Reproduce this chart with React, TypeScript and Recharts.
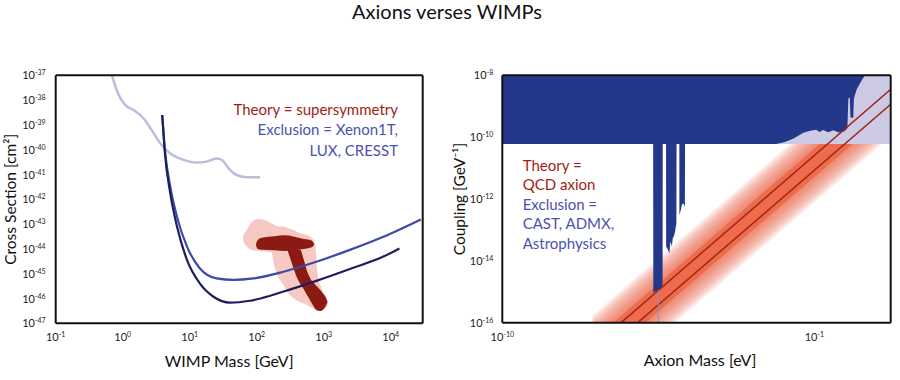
import React from "react";
import { ComposedChart, Area, Line, XAxis, YAxis, Label } from "recharts";

const FONT = "Lato, 'Open Sans', sans-serif";

// ---------- WIMP panel (all values log10: mass in GeV, cross section in cm^2)
const wimpMassTicks = [-1, 0, 1, 2, 3, 4];
const wimpMassMinorTicks = [0, 1, 2, 3, 4];
const wimpSigmaTicks = [-47, -46, -45, -44, -43, -42, -41, -40, -39, -38, -37];
const wimpSigmaMinorTicks = [-46, -45, -44, -43, -42, -41, -40, -39, -38];

const cresstLogMass = [-0.16, -0.07, 0.04, 0.16, 0.31, 0.43, 0.56, 0.71, 0.91, 1.1, 1.25, 1.4, 1.48, 1.58, 1.7, 1.85, 2.05];
const cresstLogSigma = [-37.0, -37.73, -38.2, -38.4, -38.73, -39.2, -39.74, -40.15, -40.41, -40.52, -40.48, -40.35, -40.41, -40.75, -41.02, -41.11, -41.11];

const xenonLogMass = [0.59, 0.63, 0.71, 0.81, 0.96, 1.15, 1.4, 1.65, 1.95, 2.4, 2.9, 3.39, 3.89, 4.45];
const xenonLogSigma = [-38.6, -40.01, -41.49, -42.7, -43.91, -44.78, -45.19, -45.25, -45.19, -44.92, -44.51, -44.04, -43.51, -42.81];

const luxLogMass = [0.59, 0.63, 0.71, 0.81, 0.96, 1.15, 1.35, 1.6, 1.9, 2.4, 2.9, 3.39, 3.89, 4.13];
const luxLogSigma = [-38.6, -40.15, -41.76, -43.1, -44.45, -45.39, -45.92, -46.17, -46.09, -45.72, -45.28, -44.81, -44.31, -43.98];

// supersymmetry region: light halo + dark core (bar and stem)
const haloLogMass = [1.8, 1.85, 1.93, 2.02, 2.12, 2.22, 2.27, 2.32, 2.4, 2.47, 2.55, 2.65, 2.75, 2.82, 2.87, 2.91, 2.96, 3.01, 3.06];
const haloTop = [-43.44, -43.24, -42.9, -42.79, -42.83, -42.97, -43.04, -43.1, -43.1, -43.17, -43.24, -43.37, -43.44, -43.55, -43.77, -45.05, -45.52, -45.86, -46.15];
const haloBottom = [-43.71, -43.91, -44.05, -44.08, -44.11, -44.14, -44.78, -45.12, -45.46, -45.79, -45.99, -46.15, -46.26, -46.37, -46.42, -46.44, -46.44, -46.4, -46.28];

const barLogMass = [1.99, 2.01, 2.075, 2.27, 2.42, 2.67, 2.82, 2.855];
const barTop = [-43.8, -43.66, -43.55, -43.49, -43.45, -43.58, -43.66, -43.8];
const barBottom = [-43.86, -43.99, -44.03, -44.05, -44.08, -44.01, -43.93, -43.84];

const stemLogMass = [2.46, 2.5, 2.55, 2.6, 2.65, 2.7, 2.75, 2.8, 2.85, 2.9, 2.95, 2.99, 3.03, 3.055];
const stemTop = [-44.03, -44.03, -44.03, -44.03, -44.03, -44.42, -44.88, -45.19, -45.38, -45.52, -45.66, -45.8, -45.95, -46.12];
const stemBottom = [-44.05, -44.38, -44.8, -45.15, -45.42, -45.62, -45.86, -46.09, -46.32, -46.48, -46.5, -46.45, -46.3, -46.16];

// ---------- Axion panel (log10: mass in eV, coupling in GeV^-1)
const axionMassTicks = [-10, -1];
const axionMassMinorTicks = [-7.69, -5.48, -3.24, -1];
const axionCouplingTicks = [-16, -14, -12, -10, -8];
const axionCouplingMinorTicks = [-9.18, -10.28, -11.39, -12.48, -13.59, -14.69];

// lower edge of the excluded (dark) region; it is filled up to the top of the plot
const excludedLogMass = [
  -10, -5.65, -5.645, -5.5, -5.4, -5.378, -5.374,
  -5.278, -5.275, -5.2, -5.183, -5.16, -5.143, -5.11, -5.085, -5.05, -5.019, -4.98, -4.975,
  -4.895, -4.893, -4.85, -4.826, -4.779, -4.735, -4.73,
  -2.1, -1.85, -1.6, -1.32, -1.12, -0.95, -0.85, -0.75, -0.6, -0.45, -0.3, -0.12, -0.05,
  -0.02, 0.02, 0.04, 0.12, 0.14, 0.22, 0.37, 0.46,
];
const excludedLogCoupling = [
  -10.22, -10.22, -15.02, -14.95, -14.85, -14.83, -10.22,
  -10.22, -13.54, -13.7, -13.76, -13.45, -13.38, -13.55, -13.27, -13.2, -13.06, -12.79, -10.22,
  -10.22, -12.52, -12.35, -12.19, -12.14, -12.25, -10.22,
  -10.22, -10.16, -10.04, -9.86, -9.79, -9.76, -9.83, -9.77, -9.84, -9.78, -9.85, -9.8, -9.71,
  -8.75, -8.72, -9.36, -9.38, -8.75, -8.45, -8.15, -8.0,
];
const astroLogMass = [-2.2, 1.2];
const astroLow = [-10.22, -10.22];
const astroHigh = [-8, -8];
const admxLineLogMass = [-5.5, -5.5];
const admxLineLogCoupling = [-14.95, -16];

// QCD axion band: two model lines
const qcdLogMass = [-7.4, 1.2];
const qcdUpper = [-16.8, -8.45];
const qcdLower = [-17.26, -8.94];

// ---------- helpers
const toPoints = (xs: number[], ys: number[]) => xs.map((x, i) => ({ x, y: ys[i] }));
const toRange = (xs: number[], lo: number[], hi: number[]) =>
  xs.map((x, i) => ({ x, range: [lo[i], hi[i]] }));

const AXIS = { stroke: "#111", strokeWidth: 2 };

const PowerTick = (props: any) => {
  const { x, y, payload, vertical } = props;
  return (
    <text
      x={x}
      y={vertical ? y + 4 : y + 9}
      textAnchor={vertical ? "end" : "middle"}
      fontSize={11}
      fill="#222"
      fontFamily={FONT}
    >
      10
      <tspan dy={-4} fontSize={7}>
        {payload.value}
      </tspan>
    </text>
  );
};

const WimpPanel = () => (
  <ComposedChart width={450} height={380} margin={{ top: 75.3, right: 27.3, bottom: 10.7, left: 5.7 }}>
    <XAxis
      xAxisId="m"
      type="number"
      dataKey="x"
      domain={[-1, 4.477]}
      ticks={wimpMassTicks}
      interval={0}
      allowDataOverflow
      tickLine={false}
      tickSize={0}
      tickMargin={9}
      axisLine={AXIS}
      height={46}
      tick={(p: any) => <PowerTick {...p} />}
    >
      <Label value="WIMP Mass [GeV]" position="insideBottom" offset={2.6} dx={-10} fontSize={16} fill="#111" fontFamily={FONT} />
    </XAxis>
    <XAxis xAxisId="mb" type="number" orientation="bottom" mirror domain={[-1, 4.477]} ticks={wimpMassMinorTicks} interval={0} tick={false} tickSize={7} tickLine={AXIS} axisLine={false} />
    <XAxis xAxisId="mt" type="number" orientation="top" mirror domain={[-1, 4.477]} ticks={wimpMassMinorTicks} interval={0} tick={false} tickSize={8} tickLine={AXIS} axisLine={AXIS} />
    <YAxis
      yAxisId="s"
      type="number"
      domain={[-47, -37]}
      ticks={wimpSigmaTicks}
      interval={0}
      allowDataOverflow
      tickLine={false}
      tickSize={0}
      tickMargin={10}
      axisLine={AXIS}
      width={50}
      tick={(p: any) => <PowerTick {...p} vertical />}
    >
      <Label value="Cross Section [cm²]" angle={-90} position="insideLeft" offset={4.5} style={{ textAnchor: "middle" }} fontSize={15.5} fill="#111" fontFamily={FONT} />
    </YAxis>
    <YAxis yAxisId="sl" type="number" orientation="left" mirror domain={[-47, -37]} ticks={wimpSigmaMinorTicks} interval={0} tick={false} tickSize={7} tickLine={AXIS} axisLine={false} />
    <YAxis yAxisId="sr" type="number" orientation="right" mirror domain={[-47, -37]} ticks={wimpSigmaMinorTicks} interval={0} tick={false} tickSize={7} tickLine={AXIS} axisLine={AXIS} />

    <Area xAxisId="m" yAxisId="s" data={toRange(haloLogMass, haloBottom, haloTop)} dataKey="range" type="monotone" fill="#f6c9c3" fillOpacity={1} stroke="none" dot={false} activeDot={false} isAnimationActive={false} />
    <Area xAxisId="m" yAxisId="s" data={toRange(barLogMass, barBottom, barTop)} dataKey="range" type="monotone" fill="#8b1b12" fillOpacity={1} stroke="none" dot={false} activeDot={false} isAnimationActive={false} />
    <Area xAxisId="m" yAxisId="s" data={toRange(stemLogMass, stemBottom, stemTop)} dataKey="range" type="monotone" fill="#8b1b12" fillOpacity={1} stroke="none" dot={false} activeDot={false} isAnimationActive={false} />

    <Line xAxisId="m" yAxisId="s" data={toPoints(cresstLogMass, cresstLogSigma)} dataKey="y" type="monotone" stroke="#bcbcdc" strokeWidth={2.5} dot={false} activeDot={false} isAnimationActive={false} />
    <Line xAxisId="m" yAxisId="s" data={toPoints(xenonLogMass, xenonLogSigma)} dataKey="y" type="monotone" stroke="#3d4ba8" strokeWidth={2.2} dot={false} activeDot={false} isAnimationActive={false} />
    <Line xAxisId="m" yAxisId="s" data={toPoints(luxLogMass, luxLogSigma)} dataKey="y" type="monotone" stroke="#1c1f5c" strokeWidth={2.2} dot={false} activeDot={false} isAnimationActive={false} />
  </ComposedChart>
);

// soft glow of the QCD band (style only: half-widths in decades)
const glowSpreads = [1.05, 0.98, 0.91, 0.84, 0.77, 0.7, 0.63, 0.56, 0.49, 0.42, 0.36, 0.3];

const bandLayer = (spread: number) =>
  toRange(
    qcdLogMass,
    qcdLower.map((v) => v - spread),
    qcdUpper.map((v) => v + spread),
  );

const AxionPanel = () => (
  <ComposedChart width={450} height={380} margin={{ top: 75.3, right: 9.3, bottom: 11.3, left: 7.3 }}>
    <XAxis
      xAxisId="m"
      type="number"
      dataKey="x"
      domain={[-10, 1.2]}
      ticks={axionMassTicks}
      interval={0}
      allowDataOverflow
      tickLine={false}
      tickSize={0}
      tickMargin={9}
      axisLine={AXIS}
      height={46}
      tick={(p: any) => <PowerTick {...p} />}
    >
      <Label value="Axion Mass [eV]" position="insideBottom" offset={2.6} dx={3.5} fontSize={16} fill="#111" fontFamily={FONT} />
    </XAxis>
    <XAxis xAxisId="mb" type="number" orientation="bottom" mirror domain={[-10, 1.2]} ticks={axionMassMinorTicks} interval={0} tick={false} tickSize={7} tickLine={AXIS} axisLine={false} />
    <XAxis xAxisId="mt" type="number" orientation="top" mirror domain={[-10, 1.2]} ticks={axionMassMinorTicks} interval={0} tick={false} tickLine={false} axisLine={AXIS} />
    <YAxis
      yAxisId="g"
      type="number"
      domain={[-16, -8]}
      ticks={axionCouplingTicks}
      interval={0}
      allowDataOverflow
      tickLine={false}
      tickSize={0}
      tickMargin={9}
      axisLine={AXIS}
      width={45}
      tick={(p: any) => <PowerTick {...p} vertical />}
    >
      <Label value="Coupling [GeV⁻¹]" angle={-90} position="insideLeft" offset={2} style={{ textAnchor: "middle" }} fontSize={15.5} fill="#111" fontFamily={FONT} />
    </YAxis>
    <YAxis yAxisId="gl" type="number" orientation="left" mirror domain={[-16, -8]} ticks={axionCouplingMinorTicks} interval={0} tick={false} tickSize={7} tickLine={AXIS} axisLine={false} />
    <YAxis yAxisId="gr" type="number" orientation="right" mirror domain={[-16, -8]} ticks={axionCouplingMinorTicks} interval={0} tick={false} tickSize={7} tickLine={AXIS} axisLine={AXIS} />

    {glowSpreads.map((s) => (
      <Area key={s} xAxisId="m" yAxisId="g" data={bandLayer(s)} dataKey="range" type="linear" fill="#f07050" fillOpacity={0.11} stroke="none" dot={false} activeDot={false} isAnimationActive={false} />
    ))}
    <Area xAxisId="m" yAxisId="g" data={bandLayer(0.22)} dataKey="range" type="linear" fill="#ee6c4c" fillOpacity={1} stroke="none" dot={false} activeDot={false} isAnimationActive={false} />
    <Line xAxisId="m" yAxisId="g" data={toPoints(qcdLogMass, qcdUpper)} dataKey="y" type="linear" stroke="#9e2618" strokeWidth={1.5} dot={false} activeDot={false} isAnimationActive={false} />
    <Line xAxisId="m" yAxisId="g" data={toPoints(qcdLogMass, qcdLower)} dataKey="y" type="linear" stroke="#9e2618" strokeWidth={1.5} dot={false} activeDot={false} isAnimationActive={false} />

    <Area xAxisId="m" yAxisId="g" data={toRange(astroLogMass, astroLow, astroHigh)} dataKey="range" type="linear" fill="#cdcae6" fillOpacity={1} stroke="none" dot={false} activeDot={false} isAnimationActive={false} />
    <Area
      xAxisId="m"
      yAxisId="g"
      data={toRange(excludedLogMass, excludedLogCoupling, excludedLogMass.map(() => -8))}
      dataKey="range"
      type="linear"
      fill="#24388b"
      fillOpacity={1}
      stroke="none"
      dot={false}
      activeDot={false}
      isAnimationActive={false}
    />
    <Line xAxisId="m" yAxisId="g" data={toPoints(admxLineLogMass, admxLineLogCoupling)} dataKey="y" type="linear" stroke="#8e92cc" strokeWidth={1} dot={false} activeDot={false} isAnimationActive={false} />
  </ComposedChart>
);

const RED = "#a01e14";
const BLUE = "#4b52ad";

export default function App() {
  return (
    <div style={{ position: "absolute", left: 0, top: 0, width: 900, height: 380, background: "#fff", fontFamily: FONT, overflow: "hidden" }}>
      <div style={{ position: "absolute", left: -3, top: -1, width: 900, textAlign: "center", fontSize: 20, lineHeight: "24px", color: "#111" }}>
        Axions verses WIMPs
      </div>
      <div style={{ position: "absolute", left: 0, top: 0 }}>
        <WimpPanel />
      </div>
      <div style={{ position: "absolute", left: 450, top: 0 }}>
        <AxionPanel />
      </div>
      <div style={{ position: "absolute", left: 150, top: 99, width: 248, textAlign: "right", fontSize: 15, lineHeight: "20.3px" }}>
        <div style={{ color: RED }}>Theory = supersymmetry</div>
        <div style={{ color: BLUE }}>Exclusion = Xenon1T,</div>
        <div style={{ color: BLUE }}>LUX, CRESST</div>
      </div>
      <div style={{ position: "absolute", left: 522.7, top: 155.5, fontSize: 15, lineHeight: "19.5px" }}>
        <div style={{ color: RED }}>Theory =</div>
        <div style={{ color: RED }}>QCD axion</div>
        <div style={{ color: BLUE }}>Exclusion =</div>
        <div style={{ color: BLUE }}>CAST, ADMX,</div>
        <div style={{ color: BLUE }}>Astrophysics</div>
      </div>
    </div>
  );
}
